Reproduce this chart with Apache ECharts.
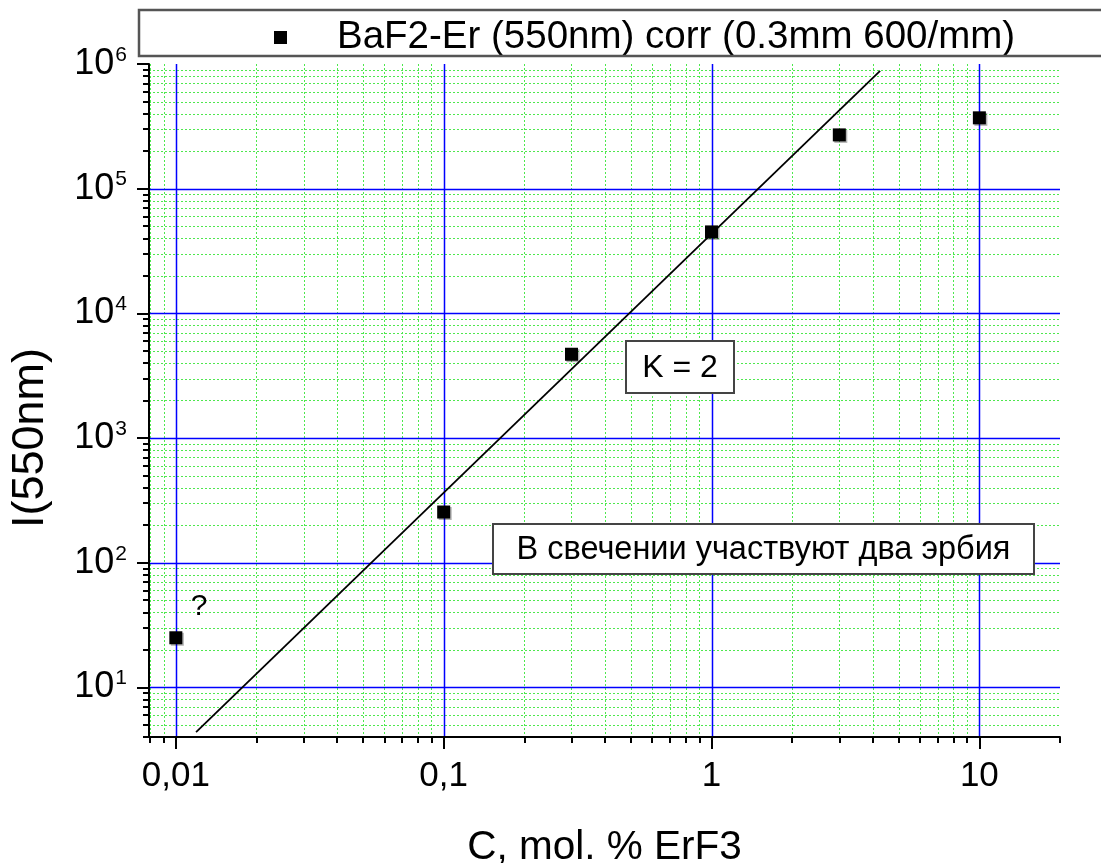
<!DOCTYPE html>
<html><head><meta charset="utf-8">
<script src="https://cdn.jsdelivr.net/npm/echarts@6/dist/echarts.min.js"></script>
<style>html,body{margin:0;padding:0;background:#fff}#c{width:1101px;height:863px}</style>
</head><body><div id="c"></div>
<script>
// ---- data ----
const seriesName = 'BaF2-Er (550nm) corr (0.3mm 600/mm)';
const concentration = [0.01, 0.1, 0.3, 1, 3, 10];
const intensity = [25, 255, 4700, 45000, 270000, 370000];
const fitC = [0.0119, 4.26];
const fitI = [4.38, 880000];
const xTickValues = [0.01, 0.1, 1, 10];
const xTickLabels = ['0,01', '0,1', '1', '10'];
const yTickExponents = [1, 2, 3, 4, 5, 6];
const xRange = [0.00794, 20];
const yRange = [4, 1e6];
const annotationK = 'K = 2';
const annotationText = 'В свечении участвуют два эрбия';
const questionMark = '?';
const xTitle = 'C, mol. % ErF3';
const yTitle = 'I(550nm)';

const L = Math.log10;
function minorList(lo, hi) {
  const out = [];
  for (let d = Math.floor(L(lo)); d <= Math.ceil(L(hi)); d++) {
    for (let k = 2; k <= 9; k++) {
      const v = k * Math.pow(10, d);
      if (v >= lo * 0.9999 && v <= hi * 1.0001) out.push(Math.max(L(lo), Math.min(L(hi), L(v))));
    }
  }
  return out;
}
const xMajor = xTickValues.map(L);
const yMajor = yTickExponents.slice();
const xMinor = minorList(xRange[0], xRange[1]);
const yMinor = minorList(yRange[0], yRange[1]);
const xMinorGrid = xMinor.filter(v => v > L(xRange[0]) + 1e-3 && v < L(xRange[1]) - 1e-3);
const yMinorGrid = yMinor.filter(v => v > L(yRange[0]) + 1e-3 && v < L(yRange[1]) - 1e-3);
const yMajorGrid = yMajor.filter(v => v < L(yRange[1]) - 1e-3);
// grid line records: [direction (0 = vertical, 1 = horizontal), value, major flag]
const gridLineData = []
  .concat(xMinorGrid.map(v => [0, v, 0]))
  .concat(yMinorGrid.map(v => [1, v, 0]))
  .concat(xMajor.map(v => [0, v, 1]))
  .concat(yMajorGrid.map(v => [1, v, 1]));
const F = 'Liberation Sans, Arial, sans-serif';

const gridPos = {left: 149, top: 64, width: 911, height: 673, containLabel: false, outerBoundsMode: 'none'};
const noSplit = () => ({show: false});

function renderGridLine(params, api) {
  const cs = params.coordSys;
  const dir = api.value(0), v = api.value(1), major = api.value(2);
  let shape;
  if (dir === 0) {
    const px = Math.round(api.coord([v, L(yRange[0])])[0]) + 0.5;
    shape = {x1: px, y1: cs.y, x2: px, y2: cs.y + cs.height};
  } else {
    const py = Math.round(api.coord([L(xRange[0]), v])[1]) + 0.5;
    shape = {x1: cs.x, y1: py, x2: cs.x + cs.width, y2: py};
  }
  const style = major
    ? {stroke: '#0000ff', lineWidth: 1.5, fill: null}
    : {stroke: '#4ee84e', lineWidth: 1, lineDash: [2, 2], fill: null};
  return {type: 'line', shape: shape, style: style, silent: true, z2: major ? 2 : 1};
}

const option = {
  backgroundColor: '#fff',
  animation: false,
  grid: [Object.assign({}, gridPos), Object.assign({}, gridPos)],
  xAxis: [
    { type: 'value', gridIndex: 0, min: L(xRange[0]), max: L(xRange[1]), z: 3,
      axisLine: {show: true, onZero: false, lineStyle: {color: '#000', width: 2}},
      axisTick: {show: true, inside: false, length: 12, customValues: xMajor, lineStyle: {color: '#000', width: 2}},
      axisLabel: {show: true, customValues: xMajor, margin: 22, fontSize: 35, fontFamily: F, color: '#000',
        formatter: v => { const i = xMajor.findIndex(m => Math.abs(m - v) < 1e-6); return i >= 0 ? xTickLabels[i] : ''; }},
      splitLine: noSplit(), minorSplitLine: noSplit(),
      name: xTitle, nameLocation: 'middle', nameGap: 90,
      nameTextStyle: {fontSize: 40.5, fontFamily: F, color: '#000'}
    },
    { type: 'value', gridIndex: 1, min: L(xRange[0]), max: L(xRange[1]), z: 3,
      axisLine: {show: false, onZero: false},
      axisTick: {show: true, inside: false, length: 6, customValues: xMinor, lineStyle: {color: '#000', width: 2}},
      axisLabel: {show: false},
      splitLine: noSplit(), minorSplitLine: noSplit()
    }
  ],
  yAxis: [
    { type: 'value', gridIndex: 0, min: L(yRange[0]), max: L(yRange[1]), z: 3,
      axisLine: {show: true, onZero: false, lineStyle: {color: '#000', width: 2}},
      axisTick: {show: true, inside: false, length: 12, customValues: yMajor, lineStyle: {color: '#000', width: 2}},
      axisLabel: {show: true, customValues: yMajor, margin: 22, fontFamily: F, color: '#000',
        formatter: v => '{b|10}{s|' + Math.round(v) + '}',
        rich: {b: {fontSize: 36, fontFamily: F, color: '#000'}, s: {fontSize: 21, fontFamily: F, color: '#000', padding: [0, 0, 18, 1]}}},
      splitLine: noSplit(), minorSplitLine: noSplit()
    },
    { type: 'value', gridIndex: 1, min: L(yRange[0]), max: L(yRange[1]), z: 3,
      axisLine: {show: false, onZero: false},
      axisTick: {show: true, inside: false, length: 6, customValues: yMinor, lineStyle: {color: '#000', width: 2}},
      axisLabel: {show: false},
      splitLine: noSplit(), minorSplitLine: noSplit()
    }
  ],
  legend: {
    show: true, left: 274, top: 18, padding: 0,
    icon: 'rect', itemWidth: 13, itemHeight: 13,
    data: [seriesName],
    textStyle: {fontSize: 38.5, fontFamily: F, color: '#000', padding: [0, 0, 0, 45]}
  },
  series: [
    { type: 'custom', xAxisIndex: 0, yAxisIndex: 0, data: gridLineData, renderItem: renderGridLine,
      silent: true, z: 1, clip: false, encode: {x: 1, y: 1} },
    { type: 'line', xAxisIndex: 0, yAxisIndex: 0, data: fitC.map((c, i) => [L(c), L(fitI[i])]),
      showSymbol: false, symbol: 'none', lineStyle: {color: '#000', width: 1.8}, z: 4, silent: true },
    { name: seriesName, type: 'scatter', xAxisIndex: 0, yAxisIndex: 0,
      data: concentration.map((c, i) => [L(c), L(intensity[i])]),
      symbol: 'rect', symbolSize: 13, itemStyle: {color: '#000', opacity: 1, shadowColor: 'rgba(0,0,0,0.3)', shadowOffsetX: 1.5, shadowOffsetY: 1.5}, z: 5 }
  ],
  graphic: [
    { type: 'text', x: 31, y: 438, rotation: Math.PI / 2,
      style: {text: yTitle, fontSize: 45, fontFamily: F, fill: '#000', align: 'center', verticalAlign: 'middle'}, z: 11 },
    { type: 'rect', shape: {x: 139, y: 10, width: 980, height: 46}, style: {fill: 'none', stroke: '#555', lineWidth: 2.5}, z: 10 },
    { type: 'rect', shape: {x: 626, y: 341, width: 108, height: 52}, style: {fill: '#fff', stroke: '#444', lineWidth: 2}, z: 10 },
    { type: 'text', x: 680, y: 368, style: {text: annotationK, fontSize: 32, fontFamily: F, fill: '#000', align: 'center', verticalAlign: 'middle'}, z: 11 },
    { type: 'rect', shape: {x: 493, y: 524, width: 541, height: 50}, style: {fill: '#fff', stroke: '#444', lineWidth: 2}, z: 10 },
    { type: 'text', x: 763.5, y: 550, style: {text: annotationText, fontSize: 32.5, fontFamily: F, fill: '#000', align: 'center', verticalAlign: 'middle'}, z: 11 },
    { type: 'text', x: 199, y: 607, style: {text: questionMark, fontSize: 30, fontFamily: F, fill: '#000', align: 'center', verticalAlign: 'middle'}, z: 11 }
  ]
};
const chart = echarts.init(document.getElementById('c'), null, {renderer: 'canvas'});
chart.setOption(option);
</script>
</body></html>
